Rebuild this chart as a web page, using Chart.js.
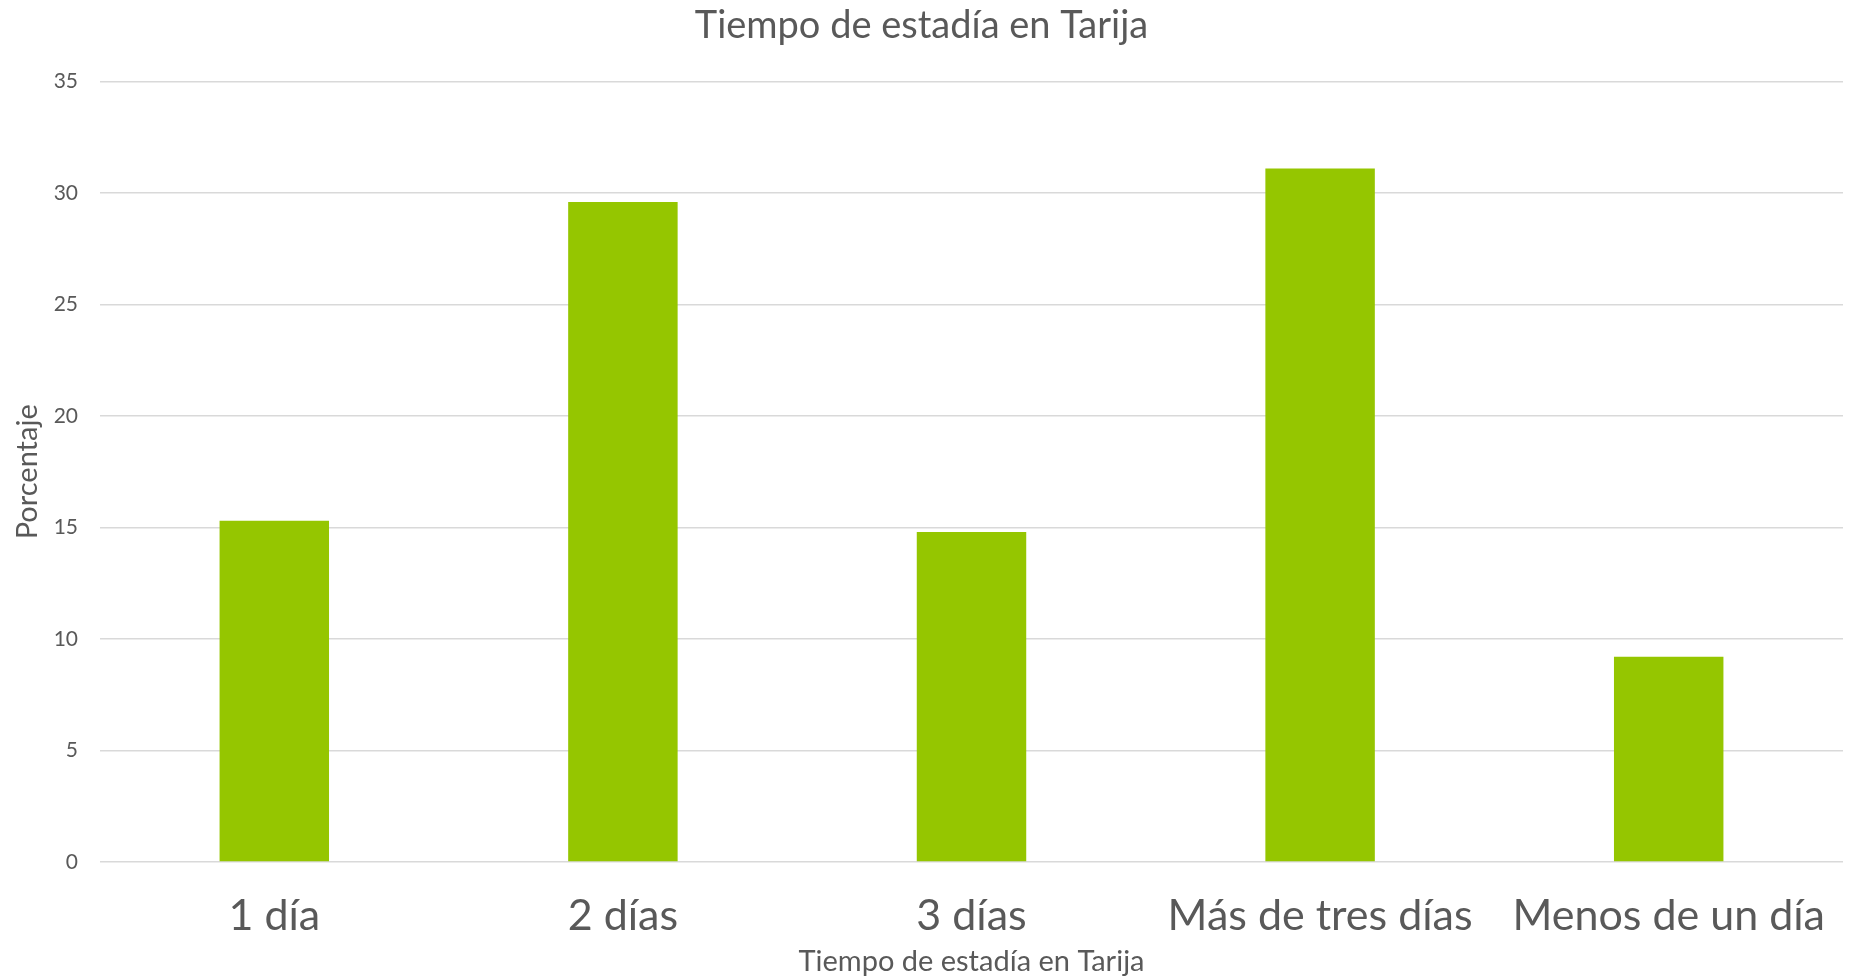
<!DOCTYPE html>
<html>
<head>
<meta charset="utf-8">
<title>Tiempo de estadía en Tarija</title>
<script src="https://cdn.jsdelivr.net/npm/chart.js@4.4.1/dist/chart.umd.min.js"></script>
<style>
    html, body { margin: 0; padding: 0; background: #ffffff; }
    #chartBox { width: 1852px; height: 979px; }
</style>
</head>
<body>
<div id="chartBox"><canvas id="chartArea"></canvas></div>
<script>
var categories = ['1 día', '2 días', '3 días', 'Más de tres días', 'Menos de un día'];
var porcentaje = [15.3, 29.6, 14.8, 31.1, 9.2];
var yTicks = [0, 5, 10, 15, 20, 25, 30, 35];

var textColor = '#595959';
var fontName = "Lato, 'Open Sans', sans-serif";

var ctx = document.getElementById('chartArea').getContext('2d');
var config = {
    type: 'bar',
    data: {
        labels: categories,
        datasets: [{
            label: 'Porcentaje',
            data: porcentaje,
            backgroundColor: '#95c600',
            borderWidth: 0,
            categoryPercentage: 1,
            barPercentage: 0.314
        }]
    },
    options: {
        responsive: true,
        maintainAspectRatio: false,
        animation: false,
        layout: { padding: { left: 0, right: 9, top: 0, bottom: 0 } },
        plugins: {
            legend: { display: false },
            tooltip: { enabled: false },
            title: {
                display: true,
                text: 'Tiempo de estadía en Tarija',
                color: textColor,
                font: { family: fontName, size: 38, weight: 'normal' },
                padding: { top: 3, bottom: 33 }
            }
        },
        scales: {
            x: {
                grid: { display: false },
                border: { display: false },
                ticks: {
                    color: textColor,
                    font: { family: fontName, size: 43 },
                    padding: 20,
                    maxRotation: 0,
                    autoSkip: false
                },
                title: {
                    display: true,
                    text: 'Tiempo de estadía en Tarija',
                    color: textColor,
                    font: { family: fontName, size: 29 },
                    padding: { top: 0, bottom: 0 }
                },
                afterFit: function (scale) { scale.height = 117; }
            },
            y: {
                min: 0,
                max: 35,
                afterBuildTicks: function (scale) {
                    scale.ticks = yTicks.map(function (v) { return { value: v }; });
                },
                grid: { color: '#d9d9d9', lineWidth: 1.5, drawTicks: false },
                border: { display: false },
                ticks: {
                    color: textColor,
                    font: { family: fontName, size: 21 },
                    padding: 22
                },
                title: {
                    display: true,
                    text: 'Porcentaje',
                    color: textColor,
                    font: { family: fontName, size: 29 },
                    padding: { top: 10, bottom: 0 }
                },
                afterFit: function (scale) { scale.width = 100; }
            }
        }
    }
};
var myNewChart = new Chart(ctx, config);
</script>
</body>
</html>
